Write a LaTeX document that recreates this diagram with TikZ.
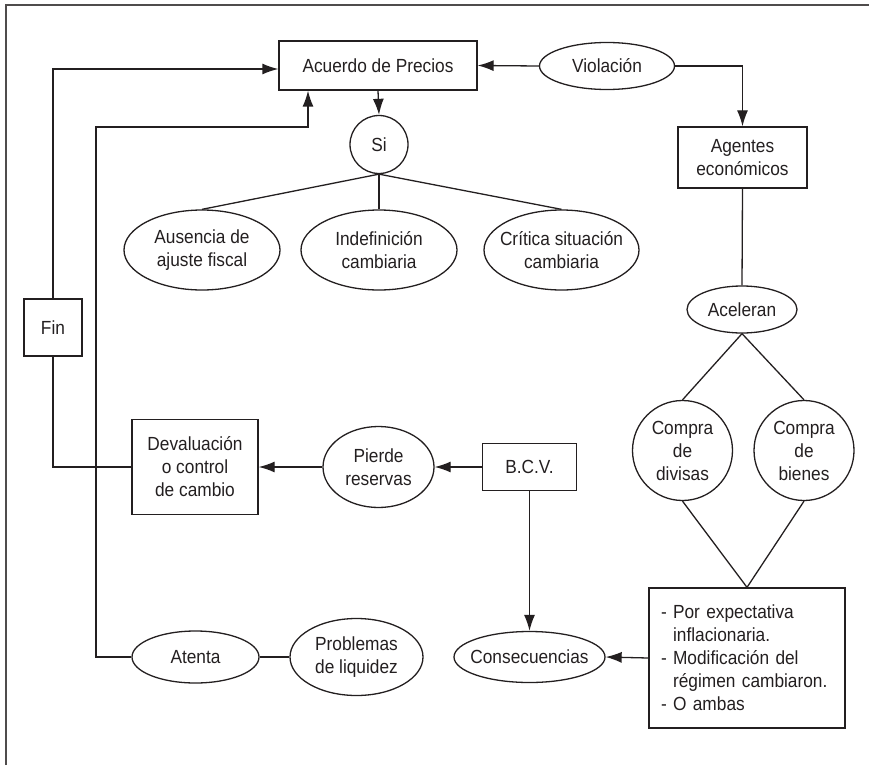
\documentclass[tikz,border=0pt]{standalone}
\usepackage{fontspec}
\setmainfont[FakeStretch=0.91]{Liberation Sans}
\usetikzlibrary{arrows.meta,shapes.geometric,calc}
\definecolor{ink}{HTML}{231F20}
\newcommand{\dfont}{\fontsize{19}{23}\selectfont}
\begin{document}
\begin{tikzpicture}[x=1pt,y=-1pt,font=\dfont,color=ink,
  base/.style={draw=ink, line width=1.3pt, inner sep=0pt, align=center, text=ink},
  boxn/.style={base, rectangle},
  elln/.style={base, ellipse},
  circn/.style={base, circle},
  every label/.style={align=center, inner sep=0pt, text=ink},
  conn/.style={draw=ink, line width=1.3pt},
  arr/.style={conn, -{Latex[length=16pt,width=11pt]}}]
\useasboundingbox (0,0) rectangle (869,765);
% frame
\draw[line width=1.8pt, ink!80] (6,765) -- (6,5) -- (869,5);

% nodes
\node[boxn, minimum width=198pt, minimum height=49pt] (acu) at (378,65.5) {Acuerdo de Precios};
\node[elln, minimum width=135pt, minimum height=47pt, label={center:Violación}] (viol) at (607,66) {};
\node[boxn, minimum width=129pt, minimum height=61pt] (age) at (742.5,157.5) {Agentes\\económicos};
\node[circn, minimum size=58pt, label={center:Si}] (si) at (379,144.5) {};
\node[elln, minimum width=156pt, minimum height=80pt, label={center:Ausencia de\\ajuste fiscal}] (aus) at (202,250) {};
\node[elln, minimum width=156pt, minimum height=80pt, label={center:Indefinición\\cambiaria}] (ind) at (379,250) {};
\node[elln, minimum width=155pt, minimum height=80pt, label={center:Crítica situación\\cambiaria}] (cri) at (561.5,250) {};
\node[elln, minimum width=110pt, minimum height=47pt, label={center:Aceleran}] (acel) at (742,309.5) {};
\node[circn, minimum size=100pt, label={center:Compra\\de\\divisas}] (div) at (682.5,450.5) {};
\node[circn, minimum size=100pt, label={center:Compra\\de\\bienes}] (bie) at (804,450.5) {};
\node[boxn, minimum width=196pt, minimum height=140pt, align=left, text width=172pt] (exp) at (747,658)
  {- Por expectativa\\\hphantom{- }inflacionaria.\\- Modificación del\\\hphantom{- }régimen cambiaron.\\- O ambas};
\node[elln, minimum width=151pt, minimum height=51pt, label={center:Consecuencias}] (cons) at (529.5,657) {};
\node[boxn, minimum width=94pt, minimum height=47pt] (bcv) at (529.5,467) {B.C.V.};
\node[elln, minimum width=111pt, minimum height=81pt, label={center:Pierde\\reservas}] (pie) at (378.5,467) {};
\node[boxn, minimum width=126pt, minimum height=95pt] (dev) at (195,467) {Devaluación\\o control\\de cambio};
\node[boxn, minimum width=58pt, minimum height=57pt] (fin) at (53,327.5) {Fin};
\node[elln, minimum width=127pt, minimum height=52pt, label={center:Atenta}] (ate) at (195.5,657) {};
\node[elln, minimum width=133pt, minimum height=77pt, label={center:Problemas\\de liquidez}] (pro) at (356.5,657) {};
\coordinate (c1) at (96,127);

% connectors
\draw[arr] (viol.west) -- (acu.east);
\draw[arr] (viol.east) -| (age.north);
\draw[arr] (acu.south) -- (si.north);
\draw[conn] (si.south) -- (aus.north);
\draw[conn] (si.south) -- (ind.north);
\draw[conn] (si.south) -- (cri.north);
\draw[conn] (age.south) -- (acel.north);
\draw[conn] (acel.south) -- (div.north);
\draw[conn] (acel.south) -- (bie.north);
\draw[conn] (div.south) -- (exp.north);
\draw[conn] (bie.south) -- (exp.north);
\draw[arr] (exp.west) -- (cons.east);
\draw[arr] (bcv.south) -- (cons.north);
\draw[arr] (bcv.west) -- (pie.east);
\draw[arr] (pie.west) -- (dev.east);
\draw[conn] (dev.west) -| (fin.south);
\draw[arr] (fin.north) |- ([yshift=-3.5pt]acu.west);
\draw[arr] (ate.west) -| (c1) -| ([xshift=-70pt]acu.south);
\draw[conn] (ate.east) -- (pro.west);
\end{tikzpicture}
\end{document}
